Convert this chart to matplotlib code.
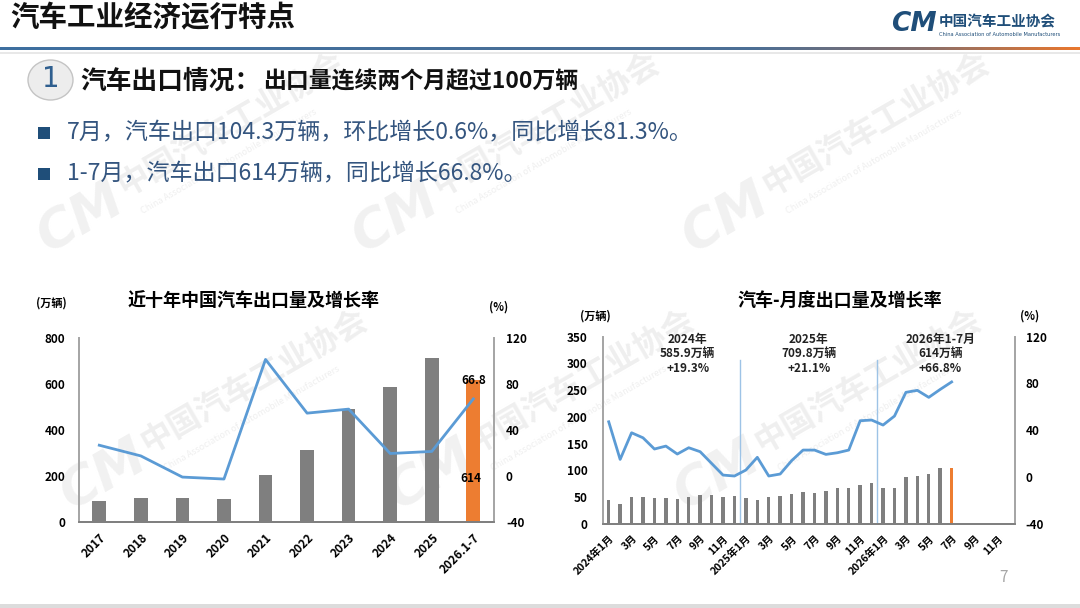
import numpy as np
import matplotlib
matplotlib.use("Agg")
import matplotlib.pyplot as plt
from matplotlib.patches import Ellipse, Rectangle
from matplotlib.colors import LinearSegmentedColormap

plt.rcParams['font.family'] = ['Noto Sans CJK SC', 'DejaVu Sans']
plt.rcParams['axes.unicode_minus'] = False

# ---- data: annual exports (left chart) ----
years = ['2017', '2018', '2019', '2020', '2021', '2022', '2023', '2024', '2025', '2026.1-7']
annual_export = [89.1, 104.1, 102.4, 99.5, 201.5, 311.1, 491.0, 585.9, 709.8, 614.0]
annual_growth = [26.5, 17.2, -1.2, -2.9, 101.1, 54.4, 57.9, 19.3, 21.1, 66.8]

# ---- data: monthly exports (right chart), Jan 2024 .. Jul 2026 ----
monthly_export = [44.3, 37.7, 50.0, 50.0, 48.5, 48.5, 47.0, 50.0, 54.0, 54.0, 50.0, 51.5,
                  47.4, 44.4, 50.6, 52.4, 56.2, 59.3, 58.0, 61.2, 66.2, 66.2, 73.0, 76.1,
                  67.5, 67.5, 88.0, 89.5, 93.0, 103.7, 104.3]
monthly_growth = [47.2, 15.0, 37.8, 33.5, 23.9, 26.4, 19.6, 25.0, 21.6, 11.6, 1.6, 0.8,
                  5.9, 16.8, 0.8, 2.5, 13.9, 23.0, 23.0, 19.3, 20.7, 23.0, 48.1, 48.7,
                  44.4, 52.1, 72.4, 74.1, 68.1, 74.9, 81.3]
n_months = 36
month_ticks = ['2024年1月', '3月', '5月', '7月', '9月', '11月',
               '2025年1月', '3月', '5月', '7月', '9月', '11月',
               '2026年1月', '3月', '5月', '7月', '9月', '11月']
year_notes = ['2024年\n585.9万辆\n+19.3%', '2025年\n709.8万辆\n+21.1%', '2026年1-7月\n614万辆\n+66.8%']

GREY = '#7f7f7f'
ORANGE = '#ed7d31'
BLUE = '#5b9bd5'
NAVY = '#1f4e79'
TEXT_BLUE = '#34557f'

fig = plt.figure(figsize=(10.8, 6.08), dpi=100)

# background layer in pixel coordinates
bg = fig.add_axes([0, 0, 1, 1], zorder=0)
bg.set_xlim(0, 1080)
bg.set_ylim(608, 0)
bg.axis('off')

# faint watermarks
for lx, ly in [(80, 218), (395, 218), (725, 218), (103, 475), (430, 475), (717, 475)]:
    bg.text(lx, ly, 'CM', fontsize=38, weight='bold', style='italic', color='#f1f1f1',
            rotation=30, ha='center', va='center', family='DejaVu Sans')
    bg.text(lx + 40, ly - 30, '中国汽车工业协会', fontsize=23, weight='bold', color='#efefef',
            rotation=30, ha='left', va='center', rotation_mode='anchor')
    bg.text(lx + 62, ly - 6, 'China Association of Automobile Manufacturers', fontsize=6.5,
            color='#efefef', rotation=30, ha='left', va='center', rotation_mode='anchor')

# header
bg.text(10, 18, '汽车工业经济运行特点', fontsize=20.5, weight='bold', color='#111111',
        ha='left', va='center')
grad = LinearSegmentedColormap.from_list('hdr', [(0, '#3e6fa0'), (0.7, '#4d6f95'), (0.86, '#8a6f6a'), (1, '#e8772e')])
bg.imshow(np.linspace(0, 1, 400).reshape(1, -1), cmap=grad, aspect='auto',
          extent=[0, 1080, 50.5, 47.5], zorder=1)
bg.plot([0, 1080], [52.5, 52.5], color='#e4e4e4', lw=1.2)
bg.set_xlim(0, 1080)
bg.set_ylim(608, 0)

# logo
bg.text(914, 24, 'CM', fontsize=19, weight='heavy', style='italic', color=NAVY,
        ha='center', va='center', family='DejaVu Sans')
bg.text(939, 21, '中国汽车工业协会', fontsize=10.5, weight='bold', color=NAVY, ha='left', va='center')
bg.text(939, 34.5, 'China Association of Automobile Manufacturers', fontsize=3.7,
        color=NAVY, ha='left', va='center', family='DejaVu Sans')

# section heading
bg.add_patch(Ellipse((50.5, 80), 45, 40, facecolor='#ededed', edgecolor='#c4c4c4', lw=1.0))
bg.text(50.5, 79, '1', fontsize=20, color='#2f5f8f', ha='center', va='center', family='DejaVu Sans')
bg.text(80, 81, '汽车出口情况：', fontsize=18.5, weight='bold', color='#111111', ha='left', va='center')
bg.text(263, 82, '出口量连续两个月超过100万辆', fontsize=16.5, weight='bold', color='#111111',
        ha='left', va='center')

# bullets
for yb, txt in [(133, '7月，汽车出口104.3万辆，环比增长0.6%，同比增长81.3%。'),
                (174, '1-7月，汽车出口614万辆，同比增长66.8%。')]:
    bg.add_patch(Rectangle((38, yb - 6), 12, 12, facecolor=NAVY, edgecolor='none'))
    bg.text(67, yb, txt, fontsize=16.6, color=TEXT_BLUE, ha='left', va='center')

# chart captions
bg.text(253.6, 300, '近十年中国汽车出口量及增长率', fontsize=13, weight='bold', ha='center', va='center')
bg.text(51.5, 303, '(万辆)', fontsize=8, weight='bold', ha='center', va='center')
bg.text(499, 307, '(%)', fontsize=8, weight='bold', ha='center', va='center')
bg.text(839.6, 300.5, '汽车-月度出口量及增长率', fontsize=13, weight='bold', ha='center', va='center')
bg.text(595, 316, '(万辆)', fontsize=8, weight='bold', ha='center', va='center')
bg.text(1030, 316, '(%)', fontsize=8, weight='bold', ha='center', va='center')

# footer
bg.text(1003, 577, '7', fontsize=11, color='#a6a6a6', ha='center', va='center')
bg.add_patch(Rectangle((0, 604), 1080, 4, facecolor='#dcdcdc', edgecolor='none'))


def style_axes(ax, ax2, lpad, rpad):
    for a in (ax, ax2):
        a.set_facecolor('none')
        a.spines['top'].set_visible(False)
        a.spines['left'].set_color('#a6a6a6')
        a.spines['right'].set_color('#a6a6a6')
        a.spines['bottom'].set_color('#7f7f7f')
        for s in ('left', 'right', 'bottom'):
            a.spines[s].set_linewidth(1.3)
    ax.tick_params(axis='y', length=0, pad=lpad, labelsize=8.5)
    ax2.tick_params(axis='y', length=0, pad=rpad, labelsize=8.5)
    ax.tick_params(axis='x', length=0, pad=7)
    for lab in ax.get_yticklabels() + ax2.get_yticklabels():
        lab.set_fontweight('bold')


# ---- left chart ----
ax = fig.add_axes([78.5 / 1080, 1 - 521.7 / 608, 415.6 / 1080, 184 / 608], zorder=2)
x = np.arange(len(years))
colors = [GREY] * (len(years) - 1) + [ORANGE]
ax.bar(x, annual_export, width=0.33, color=colors, zorder=2)
ax.set_xlim(-0.5, len(years) - 0.5)
ax.set_ylim(0, 800)
ax.set_yticks(range(0, 801, 200))
ax.set_xticks(x)
ax.set_xticklabels(years, rotation=45, ha='right', rotation_mode='anchor',
                   fontsize=8.5, fontweight='bold')
ax2 = ax.twinx()
ax2.plot(x, annual_growth, color=BLUE, lw=2.0, zorder=3)
ax2.set_ylim(-40, 120)
ax2.set_yticks(range(-40, 121, 40))
style_axes(ax, ax2, 9.5, 8.5)
ax2.annotate(f'{annual_growth[-1]:.1f}', (x[-1], annual_growth[-1]), xytext=(0, 13),
             textcoords='offset points', ha='center', va='center', fontsize=8.5, weight='bold')
ax.annotate(f'{annual_export[-1]:.0f}', (x[-1], 0), xytext=(-2, 31),
            textcoords='offset points', ha='center', va='center', fontsize=8.5, weight='bold')

# ---- right chart ----
bx = fig.add_axes([603 / 1080, 1 - 523.7 / 608, 411.5 / 1080, 187 / 608], zorder=2)
mx = np.arange(len(monthly_export))
mcolors = [GREY] * (len(monthly_export) - 1) + [ORANGE]
bx.bar(mx, monthly_export, width=0.3, color=mcolors, zorder=2)
bx.set_xlim(-0.5, n_months - 0.5)
bx.set_ylim(0, 350)
bx.set_yticks(range(0, 351, 50))
bx.set_xticks(np.arange(0, n_months, 2))
bx.set_xticklabels(month_ticks, rotation=45, ha='right', rotation_mode='anchor',
                   fontsize=7.5, fontweight='bold')
for k in (1, 2):
    bx.plot([12 * k - 0.5] * 2, [0, 306], color='#9dc3e6', lw=1.0, zorder=1)
for xc, note in zip([6.9, 17.5, 29.0], year_notes):
    bx.text(xc, 318, note, fontsize=8.5, weight='bold', ha='center', va='center',
            linespacing=1.15, color='#222222')
bx2 = bx.twinx()
bx2.plot(mx, monthly_growth, color=BLUE, lw=2.0, zorder=3)
bx2.set_ylim(-40, 120)
bx2.set_yticks(range(-40, 121, 40))
style_axes(bx, bx2, 11, 8)

fig.savefig('out.png', dpi=100)
